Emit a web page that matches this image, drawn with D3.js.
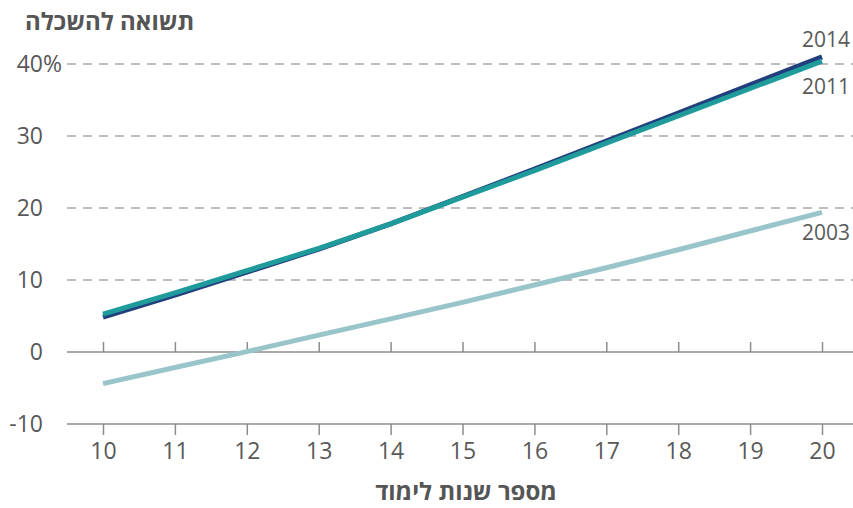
<!DOCTYPE html>
<html>
<head>
<meta charset="utf-8">
<script src="https://cdn.jsdelivr.net/npm/d3@7"></script>
<style>
  body { margin: 0; background: #fff; }
  svg { font-family: "Open Sans", "Noto Sans", sans-serif; }
</style>
</head>
<body>
<svg width="853" height="508"></svg>
<script>
// years of schooling (x) and return to education (%) per survey year
var years = [10, 11, 12, 13, 14, 15, 16, 17, 18, 19, 20];
var series2003 = [-4.4, -2.15, 0.05, 2.35, 4.6, 6.9, 9.3, 11.7, 14.2, 16.8, 19.4];
var series2011 = [5.25, 8.2, 11.3, 14.4, 17.8, 21.5, 25.2, 29.0, 32.8, 36.6, 40.4];
var series2014 = [4.85, 7.9, 11.1, 14.3, 17.8, 21.6, 25.4, 29.3, 33.2, 37.1, 41.0];
var yTicks = [-10, 0, 10, 20, 30, 40];
var seriesNames = ["2003", "2014", "2011"];

var colors = { "2003": "#98c5c9", "2014": "#223f7d", "2011": "#1f9b9c" };
var values = { "2003": series2003, "2014": series2014, "2011": series2011 };

var svg = d3.select("svg");
var left = 67, right = 853;

var x = d3.scaleLinear().domain([10, 20]).range([103, 822]);
var y = d3.scaleLinear().domain([-10, 40]).range([424, 64]);

// dashed gridlines
svg.append("g").selectAll("line")
  .data(yTicks.filter(function(d) { return d > 0; }))
  .enter().append("line")
    .attr("x1", left).attr("x2", right)
    .attr("y1", function(d) { return y(d); })
    .attr("y2", function(d) { return y(d); })
    .attr("stroke", "#a6a6a6")
    .attr("stroke-width", 1.3)
    .attr("stroke-dasharray", "9,7");

// zero line with ticks pointing up
var zeroAxis = svg.append("g")
  .attr("transform", "translate(0," + y(0) + ")")
  .call(d3.axisTop(x).tickValues(years).tickSize(10).tickSizeOuter(0).tickFormat(""));
zeroAxis.select(".domain").attr("d", "M" + left + ",0H" + right);

// bottom axis at -10 with ticks down
var bottomAxis = svg.append("g")
  .attr("transform", "translate(0," + y(-10) + ")")
  .call(d3.axisBottom(x).tickValues(years).tickSize(11).tickSizeOuter(0).tickPadding(8).tickFormat(d3.format("d")));
bottomAxis.select(".domain").attr("d", "M" + left + ",0H" + right);

svg.selectAll(".domain, .tick line").attr("stroke", "#8c8c8c").attr("stroke-width", 1.5);
bottomAxis.selectAll("text")
  .attr("font-size", 23)
  .attr("fill", "#595959")
  .attr("font-family", "'Open Sans', 'Noto Sans', sans-serif");

// y labels
var yLab = svg.append("g");
yLab.selectAll("text")
  .data(yTicks)
  .enter().append("text")
    .attr("x", 43)
    .attr("y", function(d) { return y(d); })
    .attr("dy", "0.36em")
    .attr("text-anchor", "end")
    .attr("font-size", 23)
    .attr("fill", "#595959")
    .text(function(d) { return d; });
yLab.append("text")
  .attr("x", 43)
  .attr("y", y(40))
  .attr("dy", "0.36em")
  .attr("font-size", 23)
  .attr("fill", "#595959")
  .text("%");

// lines
var line = d3.line()
  .x(function(d, i) { return x(years[i]); })
  .y(function(d) { return y(d); });

svg.append("g").selectAll("path")
  .data(seriesNames)
  .enter().append("path")
    .attr("d", function(k) { return line(values[k]); })
    .attr("fill", "none")
    .attr("stroke", function(k) { return colors[k]; })
    .attr("stroke-width", 5);

// series labels
var labelY = { "2014": 47, "2011": 94, "2003": 240 };
svg.append("g").selectAll("text")
  .data(["2014", "2011", "2003"])
  .enter().append("text")
    .attr("x", 850)
    .attr("y", function(k) { return labelY[k]; })
    .attr("text-anchor", "end")
    .attr("font-size", 21)
    .attr("fill", "#595959")
    .text(function(k) { return k; });

// titles
svg.append("text")
  .attr("x", 25).attr("y", 30)
  .attr("font-size", 24)
  .attr("font-weight", "bold")
  .attr("fill", "#555")
  .text("תשואה להשכלה");

svg.append("text")
  .attr("x", 466).attr("y", 500)
  .attr("text-anchor", "middle")
  .attr("font-size", 24)
  .attr("font-weight", "bold")
  .attr("fill", "#555")
  .text("מספר שנות לימוד");
</script>
</body>
</html>
